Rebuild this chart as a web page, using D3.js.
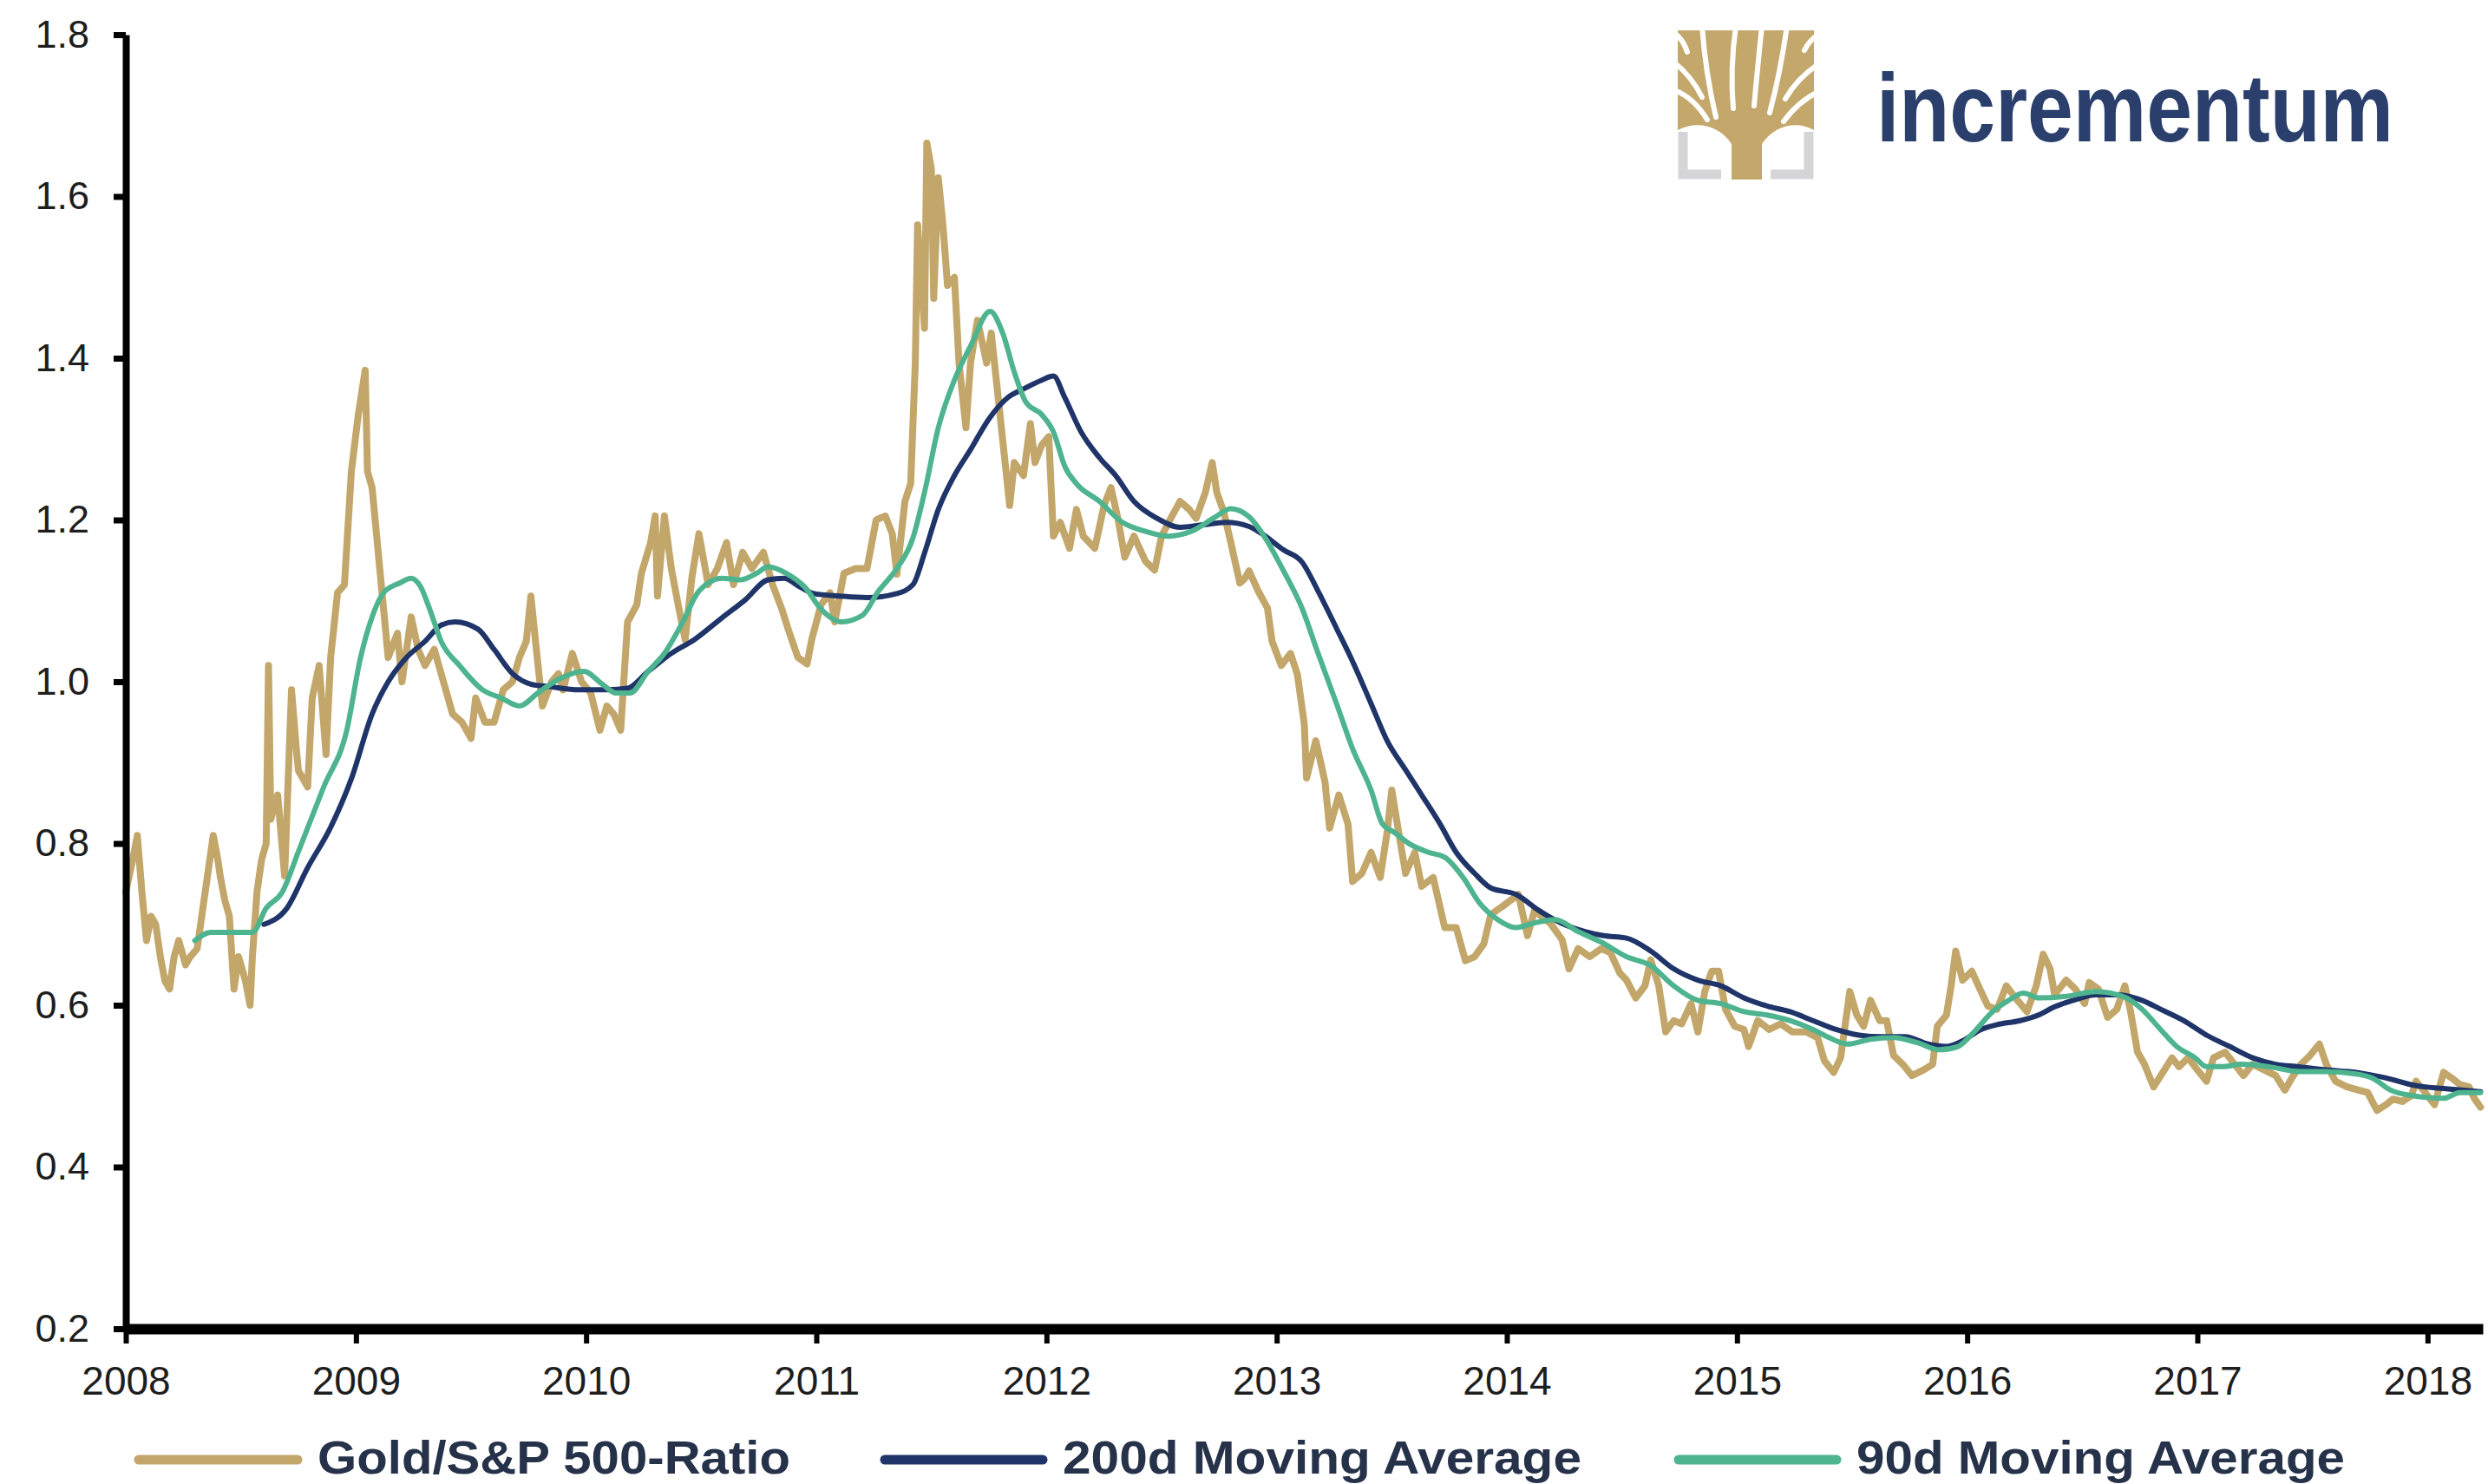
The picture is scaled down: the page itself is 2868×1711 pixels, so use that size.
<!DOCTYPE html>
<html>
<head>
<meta charset="utf-8">
<script src="https://cdn.jsdelivr.net/npm/d3@7"></script>
<style>
  body { margin: 0; background: #fff; }
  svg { display: block; font-family: "Liberation Sans", Arial, sans-serif; }
</style>
</head>
<body>
<svg id="chart"></svg>
<script>
// Gold / S&P 500 ratio as [decimal year, value]
const goldRatio = [
  [2008.00,0.74],[2008.03,0.78],[2008.05,0.81],[2008.07,0.74],[2008.09,0.68],[2008.11,0.71],[2008.13,0.70],
  [2008.15,0.66],[2008.17,0.63],[2008.19,0.62],[2008.21,0.66],[2008.23,0.68],[2008.26,0.65],[2008.28,0.66],
  [2008.31,0.67],[2008.33,0.71],[2008.35,0.75],[2008.38,0.81],[2008.40,0.78],[2008.41,0.76],[2008.43,0.73],
  [2008.45,0.71],[2008.47,0.62],[2008.49,0.66],[2008.50,0.65],[2008.52,0.63],[2008.54,0.60],[2008.55,0.66],
  [2008.57,0.74],[2008.59,0.78],[2008.61,0.80],[2008.62,1.02],[2008.63,0.83],[2008.66,0.86],[2008.69,0.76],
  [2008.72,0.99],[2008.74,0.92],[2008.75,0.89],[2008.79,0.87],[2008.81,0.98],[2008.84,1.02],[2008.87,0.91],
  [2008.89,1.03],[2008.92,1.11],[2008.95,1.12],[2008.98,1.26],[2009.01,1.33],[2009.04,1.385],[2009.05,1.26],
  [2009.07,1.24],[2009.09,1.18],[2009.12,1.09],[2009.14,1.03],[2009.18,1.06],[2009.20,1.00],[2009.24,1.08],
  [2009.27,1.04],[2009.30,1.02],[2009.34,1.04],[2009.37,1.01],[2009.42,0.96],[2009.46,0.95],[2009.50,0.93],
  [2009.52,0.98],[2009.56,0.95],[2009.60,0.95],[2009.64,0.99],[2009.68,1.00],[2009.71,1.03],[2009.74,1.05],
  [2009.76,1.106],[2009.78,1.05],[2009.81,0.97],[2009.85,1.00],[2009.88,1.01],[2009.90,0.99],[2009.94,1.035],
  [2009.98,1.00],[2010.02,0.986],[2010.06,0.94],[2010.09,0.97],[2010.12,0.96],[2010.15,0.94],[2010.18,1.074],
  [2010.22,1.095],[2010.24,1.134],[2010.28,1.172],[2010.30,1.205],[2010.31,1.106],[2010.34,1.205],[2010.37,1.14],
  [2010.40,1.095],[2010.43,1.052],[2010.46,1.13],[2010.49,1.183],[2010.53,1.12],[2010.57,1.14],[2010.61,1.172],
  [2010.64,1.12],[2010.68,1.16],[2010.72,1.14],[2010.77,1.16],[2010.81,1.12],[2010.85,1.09],[2010.88,1.063],
  [2010.92,1.03],[2010.96,1.022],[2010.98,1.052],[2011.02,1.095],[2011.06,1.11],[2011.08,1.074],[2011.12,1.134],
  [2011.17,1.14],[2011.22,1.14],[2011.26,1.20],[2011.30,1.205],[2011.33,1.183],[2011.35,1.133],[2011.385,1.223],
  [2011.41,1.245],[2011.43,1.394],[2011.44,1.565],[2011.47,1.437],[2011.48,1.666],[2011.50,1.634],[2011.51,1.474],
  [2011.53,1.623],[2011.55,1.565],[2011.57,1.49],[2011.60,1.50],[2011.62,1.394],[2011.65,1.314],[2011.67,1.394],
  [2011.70,1.447],[2011.74,1.394],[2011.76,1.431],[2011.79,1.352],[2011.81,1.298],[2011.84,1.218],[2011.86,1.271],
  [2011.90,1.255],[2011.93,1.319],[2011.95,1.271],[2011.98,1.293],[2012.01,1.303],[2012.03,1.18],[2012.06,1.197],
  [2012.10,1.165],[2012.13,1.213],[2012.16,1.18],[2012.21,1.165],[2012.25,1.218],[2012.28,1.24],[2012.31,1.202],
  [2012.34,1.154],[2012.38,1.18],[2012.43,1.149],[2012.47,1.138],[2012.50,1.18],[2012.54,1.202],[2012.58,1.223],
  [2012.62,1.213],[2012.65,1.202],[2012.69,1.234],[2012.72,1.271],[2012.74,1.234],[2012.77,1.21],[2012.80,1.173],
  [2012.84,1.122],[2012.86,1.127],[2012.88,1.137],[2012.92,1.112],[2012.96,1.091],[2012.98,1.05],[2013.02,1.02],
  [2013.06,1.035],[2013.09,1.009],[2013.12,0.948],[2013.13,0.881],[2013.17,0.927],[2013.21,0.876],[2013.23,0.819],
  [2013.27,0.86],[2013.31,0.824],[2013.33,0.753],[2013.37,0.763],[2013.41,0.789],[2013.45,0.758],[2013.48,0.814],
  [2013.50,0.866],[2013.53,0.814],[2013.56,0.763],[2013.60,0.789],[2013.63,0.747],[2013.68,0.758],[2013.73,0.696],
  [2013.78,0.696],[2013.82,0.655],[2013.86,0.66],[2013.90,0.676],[2013.93,0.712],[2013.98,0.722],[2014.05,0.737],
  [2014.09,0.686],[2014.12,0.717],[2014.19,0.701],[2014.24,0.681],[2014.27,0.645],[2014.31,0.67],[2014.36,0.66],
  [2014.41,0.67],[2014.45,0.665],[2014.49,0.64],[2014.52,0.631],[2014.56,0.609],[2014.60,0.624],[2014.625,0.656],
  [2014.66,0.624],[2014.69,0.567],[2014.725,0.581],[2014.76,0.577],[2014.80,0.602],[2014.83,0.567],[2014.86,0.617],
  [2014.89,0.642],[2014.92,0.642],[2014.95,0.595],[2014.99,0.574],[2015.03,0.57],[2015.05,0.549],[2015.09,0.581],
  [2015.14,0.57],[2015.19,0.577],[2015.24,0.567],[2015.30,0.567],[2015.35,0.56],[2015.38,0.531],[2015.42,0.517],
  [2015.45,0.535],[2015.49,0.617],[2015.52,0.588],[2015.55,0.574],[2015.58,0.606],[2015.62,0.581],[2015.65,0.581],
  [2015.68,0.538],[2015.72,0.527],[2015.76,0.513],[2015.81,0.52],[2015.85,0.527],[2015.87,0.574],[2015.91,0.588],
  [2015.93,0.624],[2015.95,0.667],[2015.98,0.631],[2016.02,0.642],[2016.06,0.617],[2016.09,0.599],[2016.13,0.595],
  [2016.17,0.624],[2016.21,0.609],[2016.26,0.592],[2016.30,0.624],[2016.33,0.663],[2016.36,0.645],[2016.38,0.613],
  [2016.43,0.631],[2016.47,0.62],[2016.51,0.602],[2016.53,0.628],[2016.57,0.62],[2016.61,0.585],[2016.65,0.595],
  [2016.685,0.624],[2016.71,0.592],[2016.74,0.542],[2016.77,0.527],[2016.81,0.499],[2016.85,0.517],[2016.89,0.535],
  [2016.92,0.524],[2016.96,0.535],[2017.00,0.52],[2017.04,0.506],[2017.07,0.535],[2017.12,0.542],[2017.17,0.524],
  [2017.20,0.513],[2017.24,0.527],[2017.29,0.52],[2017.34,0.513],[2017.38,0.495],[2017.41,0.51],[2017.45,0.527],
  [2017.49,0.538],[2017.53,0.552],[2017.56,0.527],[2017.60,0.506],[2017.65,0.499],[2017.70,0.495],[2017.74,0.492],
  [2017.78,0.47],[2017.82,0.477],[2017.85,0.484],[2017.89,0.481],[2017.93,0.488],[2017.95,0.506],[2017.99,0.492],
  [2018.03,0.477],[2018.07,0.517],[2018.105,0.51],[2018.14,0.502],[2018.18,0.499],[2018.205,0.484],[2018.23,0.474]
];

// 200 day moving average
const ma200 = [
  [2008.60,0.70],[2008.70,0.72],[2008.79,0.77],[2008.89,0.82],[2008.98,0.88],[2009.07,0.96],[2009.14,1.00],
  [2009.22,1.03],[2009.30,1.05],[2009.37,1.07],[2009.43,1.074],[2009.53,1.065],[2009.60,1.04],[2009.68,1.01],
  [2009.76,0.997],[2009.84,0.994],[2009.97,0.99],[2010.09,0.99],[2010.18,0.992],[2010.27,1.013],[2010.37,1.035],
  [2010.47,1.052],[2010.59,1.079],[2010.69,1.101],[2010.79,1.126],[2010.86,1.128],[2010.93,1.117],[2010.99,1.109],
  [2011.10,1.106],[2011.22,1.104],[2011.35,1.109],[2011.42,1.12],[2011.47,1.159],[2011.53,1.213],[2011.60,1.255],
  [2011.67,1.287],[2011.75,1.325],[2011.83,1.351],[2011.90,1.362],[2011.98,1.373],[2012.03,1.378],[2012.08,1.351],
  [2012.15,1.309],[2012.23,1.277],[2012.30,1.255],[2012.38,1.223],[2012.48,1.202],[2012.58,1.191],[2012.68,1.194],
  [2012.78,1.197],[2012.88,1.192],[2012.93,1.184],[2013.03,1.163],[2013.11,1.148],[2013.18,1.112],[2013.26,1.066],
  [2013.33,1.025],[2013.41,0.973],[2013.48,0.927],[2013.56,0.891],[2013.63,0.86],[2013.71,0.824],[2013.78,0.789],
  [2013.86,0.763],[2013.93,0.745],[2014.04,0.737],[2014.14,0.717],[2014.24,0.701],[2014.34,0.691],[2014.42,0.686],
  [2014.52,0.683],[2014.625,0.667],[2014.725,0.645],[2014.83,0.631],[2014.93,0.624],[2015.03,0.609],[2015.13,0.599],
  [2015.23,0.592],[2015.33,0.581],[2015.43,0.57],[2015.53,0.563],[2015.63,0.561],[2015.73,0.561],[2015.83,0.552],
  [2015.91,0.549],[2015.98,0.556],[2016.06,0.57],[2016.13,0.576],[2016.23,0.581],[2016.31,0.588],[2016.38,0.598],
  [2016.46,0.606],[2016.56,0.613],[2016.66,0.613],[2016.76,0.606],[2016.84,0.595],[2016.94,0.581],[2017.04,0.563],
  [2017.14,0.549],[2017.24,0.535],[2017.34,0.527],[2017.44,0.524],[2017.56,0.52],[2017.69,0.517],[2017.82,0.51],
  [2017.94,0.501],[2018.07,0.497],[2018.23,0.493]
];

// 90 day moving average
const ma90 = [
  [2008.30,0.68],[2008.37,0.69],[2008.45,0.69],[2008.55,0.69],[2008.61,0.72],[2008.68,0.74],[2008.75,0.79],
  [2008.86,0.87],[2008.96,0.94],[2009.02,1.03],[2009.07,1.08],[2009.12,1.11],[2009.19,1.122],[2009.24,1.128],
  [2009.28,1.118],[2009.32,1.09],[2009.37,1.05],[2009.45,1.02],[2009.55,0.99],[2009.63,0.98],[2009.71,0.97],[2009.79,0.986],
  [2009.88,1.003],[2009.99,1.013],[2010.07,0.997],[2010.13,0.986],[2010.19,0.986],[2010.27,1.013],[2010.34,1.035],
  [2010.42,1.074],[2010.49,1.112],[2010.59,1.128],[2010.67,1.126],[2010.74,1.134],[2010.79,1.142],[2010.87,1.134],
  [2010.95,1.117],[2011.02,1.09],[2011.11,1.074],[2011.20,1.082],[2011.27,1.112],[2011.35,1.14],[2011.42,1.178],
  [2011.47,1.234],[2011.53,1.314],[2011.60,1.373],[2011.67,1.415],[2011.755,1.458],[2011.81,1.431],[2011.86,1.383],
  [2011.91,1.346],[2011.98,1.33],[2012.03,1.309],[2012.08,1.266],[2012.13,1.245],[2012.23,1.223],[2012.33,1.197],
  [2012.43,1.186],[2012.53,1.18],[2012.63,1.186],[2012.73,1.203],[2012.80,1.214],[2012.88,1.204],[2012.95,1.178],
  [2013.03,1.137],[2013.11,1.091],[2013.18,1.035],[2013.26,0.973],[2013.33,0.917],[2013.41,0.866],[2013.46,0.824],
  [2013.51,0.814],[2013.58,0.799],[2013.66,0.789],[2013.73,0.783],[2013.81,0.758],[2013.88,0.727],[2013.96,0.706],
  [2014.04,0.696],[2014.11,0.701],[2014.21,0.706],[2014.31,0.691],[2014.41,0.678],[2014.52,0.66],[2014.625,0.649],
  [2014.725,0.624],[2014.83,0.606],[2014.93,0.602],[2015.03,0.592],[2015.13,0.588],[2015.23,0.581],[2015.33,0.57],
  [2015.40,0.56],[2015.48,0.552],[2015.58,0.558],[2015.68,0.56],[2015.78,0.554],[2015.88,0.545],[2015.96,0.549],
  [2016.03,0.567],[2016.11,0.592],[2016.18,0.606],[2016.245,0.615],[2016.31,0.609],[2016.43,0.611],[2016.56,0.617],
  [2016.685,0.61],[2016.76,0.595],[2016.84,0.57],[2016.91,0.549],[2016.99,0.535],[2017.04,0.524],[2017.11,0.524],
  [2017.19,0.527],[2017.31,0.524],[2017.44,0.518],[2017.56,0.518],[2017.69,0.515],[2017.76,0.51],[2017.84,0.495],
  [2017.94,0.488],[2018.07,0.485],[2018.14,0.492],[2018.23,0.492]
];

const yTicks = [0.2, 0.4, 0.6, 0.8, 1.0, 1.2, 1.4, 1.6, 1.8];
const xYears = [2008, 2009, 2010, 2011, 2012, 2013, 2014, 2015, 2016, 2017, 2018];

const series = [
  { name: "Gold/S&P 500-Ratio", data: goldRatio, color: "#c2a66a", width: 8, curve: d3.curveLinear },
  { name: "200d Moving Average", data: ma200, color: "#1f3468", width: 6, curve: d3.curveMonotoneX },
  { name: "90d Moving Average", data: ma90, color: "#4db48f", width: 6, curve: d3.curveMonotoneX }
];

const W = 2868, H = 1711;
const svg = d3.select("#chart").attr("width", W).attr("height", H);

const x = d3.scaleLinear().domain([2008, 2018.24]).range([145, 2862]);
const y = d3.scaleLinear().domain([0.2, 1.8]).range([1532, 40]);

// lines
series.forEach(s => {
    const line = d3.line()
        .x(d => x(d[0]))
        .y(d => y(d[1]))
        .curve(s.curve);
    svg.append("path")
        .datum(s.data)
        .attr("fill", "none")
        .attr("stroke", s.color)
        .attr("stroke-width", s.width)
        .attr("stroke-linejoin", "round")
        .attr("stroke-linecap", "round")
        .attr("d", line);
});

// y axis
const yAxis = svg.append("g")
    .attr("transform", `translate(${x(2008)},0)`)
    .call(d3.axisLeft(y).tickValues(yTicks).tickFormat(d3.format(".1f")).tickSize(14).tickSizeOuter(0).tickPadding(28));
yAxis.select(".domain").attr("stroke", "#000").attr("stroke-width", 8);
yAxis.selectAll(".tick line").attr("stroke", "#000").attr("stroke-width", 7);
yAxis.selectAll(".tick text")
    .attr("fill", "#1e1e1e")
    .style("font-size", "45px");

// x axis
const xAxis = svg.append("g")
    .attr("transform", `translate(0,${y(0.2)})`)
    .call(d3.axisBottom(x).tickValues(xYears).tickFormat(d3.format("d")).tickSize(17).tickSizeOuter(0).tickPadding(26));
xAxis.select(".domain").attr("stroke", "#000").attr("stroke-width", 12);
xAxis.selectAll(".tick line").attr("stroke", "#000").attr("stroke-width", 6);
xAxis.selectAll(".tick text")
    .attr("fill", "#1e1e1e")
    .style("font-size", "46px");

// legend
const legendPos = [
    { x0: 160, x1: 343, tx: 366, tl: 545 },
    { x0: 1020, x1: 1202, tx: 1225, tl: 598 },
    { x0: 1935, x1: 2117, tx: 2140, tl: 563 }
];
const legend = svg.append("g");
series.forEach((s, i) => {
    const p = legendPos[i];
    legend.append("line")
        .attr("x1", p.x0).attr("x2", p.x1)
        .attr("y1", 1683).attr("y2", 1683)
        .attr("stroke", s.color)
        .attr("stroke-width", 11)
        .attr("stroke-linecap", "round");
    legend.append("text")
        .attr("x", p.tx)
        .attr("y", 1699)
        .attr("textLength", p.tl)
        .attr("lengthAdjust", "spacingAndGlyphs")
        .style("font-size", "53px")
        .style("font-weight", "bold")
        .attr("fill", "#263249")
        .text(s.name);
});

// logo
const logo = svg.append("g");
logo.append("path")
    .attr("d", "M1934,35 H2091 V150 C2070,138 2044,146 2031,166 V207 H1996 V166 C1983,146 1957,138 1934,150 Z")
    .attr("fill", "#c4a76b");
const gaps = [
    "M1978,135 Q1966,85 1962,30",
    "M1998,125 Q1994,80 2001,30",
    "M2022,122 Q2026,78 2031,30",
    "M2040,130 Q2052,85 2060,30",
    "M1962,112 Q1950,88 1930,72",
    "M1968,138 Q1952,112 1930,104",
    "M2058,114 Q2072,90 2096,74",
    "M2056,140 Q2074,116 2096,106",
    "M1945,60 Q1940,45 1930,38",
    "M2080,58 Q2086,46 2096,40"
];
logo.selectAll(".gap")
    .data(gaps)
    .enter().append("path")
    .attr("d", d => d)
    .attr("fill", "none")
    .attr("stroke", "#fff")
    .attr("stroke-width", 6)
    .attr("stroke-linecap", "round");
logo.append("path")
    .attr("d", "M1940,152 V201 H1984 M2085,152 V201 H2041")
    .attr("fill", "none")
    .attr("stroke", "#d5d5d7")
    .attr("stroke-width", 11);
logo.append("text")
    .attr("x", 2163)
    .attr("y", 163)
    .attr("textLength", 596)
    .attr("lengthAdjust", "spacingAndGlyphs")
    .style("font-size", "112px")
    .style("font-weight", "bold")
    .attr("fill", "#2b3f6c")
    .text("incrementum");
</script>
</body>
</html>
